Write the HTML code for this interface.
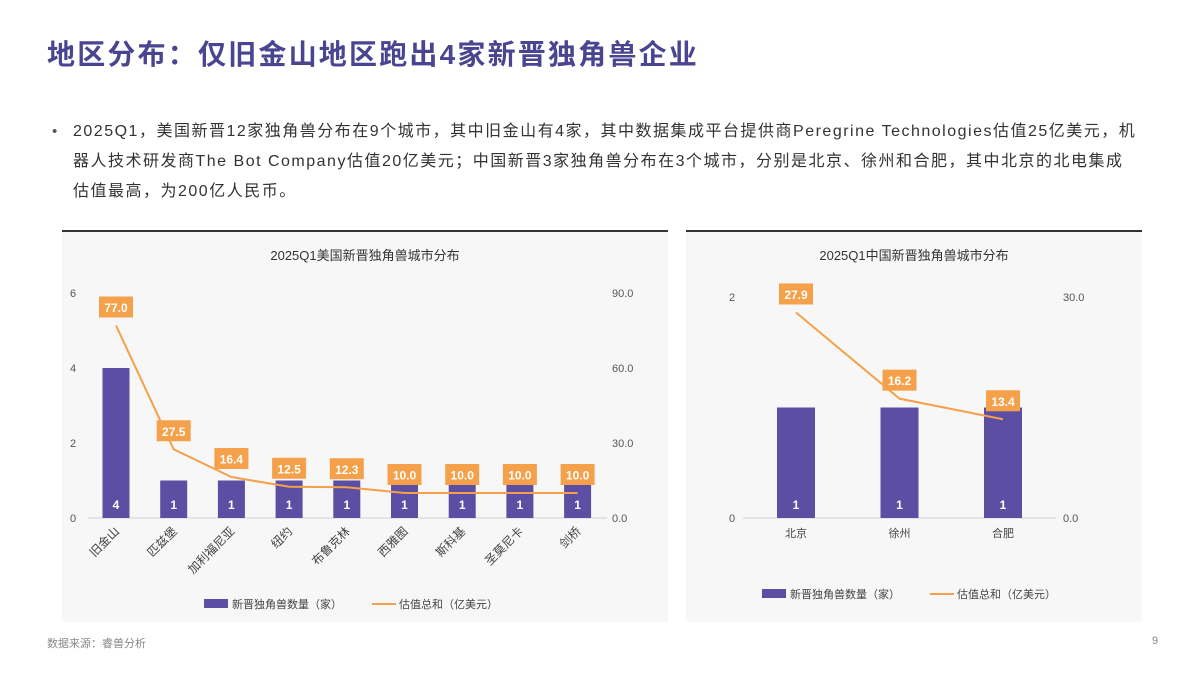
<!DOCTYPE html>
<html><head><meta charset="utf-8">
<style>
body{margin:0;width:1200px;height:675px;background:#fff;position:relative;overflow:hidden;font-family:"Liberation Sans","Noto Sans CJK SC",sans-serif;}
.title{position:absolute;left:47px;top:33px;font-size:28px;font-weight:bold;color:#4a4590;letter-spacing:2.2px;white-space:nowrap;}
.body{position:absolute;left:73px;top:117px;font-size:16px;line-height:30px;color:#333;letter-spacing:1.5px;white-space:nowrap;}
.bullet{position:absolute;left:52px;top:117px;font-size:15px;line-height:30px;color:#555;}
.foot{position:absolute;left:47px;top:635px;font-size:11px;color:#888;}
.pg{position:absolute;left:1152px;top:635px;font-size:11px;color:#888;}
svg{position:absolute;top:0;left:0;}
</style></head><body>
<div class="title">地区分布：仅旧金山地区跑出4家新晋独角兽企业</div>
<div class="bullet">•</div>
<div class="body">2025Q1，美国新晋12家独角兽分布在9个城市，其中旧金山有4家，其中数据集成平台提供商Peregrine Technologies估值25亿美元，机<br>器人技术研发商The Bot Company估值20亿美元；中国新晋3家独角兽分布在3个城市，分别是北京、徐州和合肥，其中北京的北电集成<br>估值最高，为200亿人民币。</div>
<div class="foot">数据来源：睿兽分析</div>
<div class="pg">9</div>
<svg id="chart" width="1200" height="675"></svg>
<script>
const usCats=["旧金山","匹兹堡","加利福尼亚","纽约","布鲁克林","西雅图","斯科基","圣莫尼卡","剑桥"];
const usCounts=[4,1,1,1,1,1,1,1,1];
const usVals=[77.0,27.5,16.4,12.5,12.3,10.0,10.0,10.0,10.0];
const usLeftTicks=[0,2,4,6];
const usRightTicks=[0,30,60,90];
const cnCats=["北京","徐州","合肥"];
const cnCounts=[1,1,1];
const cnVals=[27.9,16.2,13.4];
const cnLeftTicks=[0,2];
const cnRightTicks=[0,30];

const NS="http://www.w3.org/2000/svg";
const svg=document.getElementById('chart');
function mk(tag,attrs,parent){const e=document.createElementNS(NS,tag);for(const k in attrs)e.setAttribute(k,attrs[k]);(parent||svg).appendChild(e);return e;}
const FONT='"Liberation Sans","Noto Sans CJK SC",sans-serif';

function drawChart(o){
  const g=mk('g',{});
  
  
  const bg=mk('rect',{x:o.px,y:o.py,width:o.pw,height:o.ph,fill:'#f7f7f7'},g);
  
  
  const tb=mk('rect',{x:o.px,y:o.py,width:o.pw,height:2,fill:'#333'},g);
  
  
  const t=mk('text',{x:o.px+o.pw/2,y:o.py+30,'text-anchor':'middle','font-size':13,fill:'#333','font-family':FONT},g);
  t.textContent=o.title;
  
  
  const yL=v=>o.y0-(v/o.lmax)*(o.y0-o.ytop);
  const yR=v=>o.y0-(v/o.rmax)*(o.y0-o.ytop);
  const xC=i=>o.x0+o.step*i;
  o.lt.forEach(v=>{const e=mk('text',{x:o.ltx,y:yL(v)+4,'text-anchor':'middle','font-size':11,fill:'#555','font-family':FONT},g);e.textContent=v;
    });
  o.rt.forEach(v=>{const e=mk('text',{x:o.rtx,y:yR(v)+4,'text-anchor':'start','font-size':11,fill:'#555','font-family':FONT},g);e.textContent=v.toFixed(1);
    });
  const ax=mk('line',{x1:o.ax1,x2:o.ax2,y1:o.y0,y2:o.y0,stroke:'#d0d0d0','stroke-width':1},g);
  
  o.counts.forEach((c,i)=>{
    const b=mk('rect',{x:xC(i)-o.bw/2,y:yL(c),width:o.bw,height:o.y0-yL(c),fill:'#5b4ea3'},g);
    
    const l=mk('text',{x:xC(i),y:o.y0-9,'text-anchor':'middle','font-size':12,'font-weight':'bold',fill:'#fff','font-family':FONT},g);
    l.textContent=c;
  });
  const pts=o.vals.map((v,i)=>xC(i)+','+yR(v)).join(' ');
  const pl=mk('polyline',{points:pts,fill:'none',stroke:'#f5a04a','stroke-width':2},g);
  
  o.vals.forEach((v,i)=>{
    const y=yR(v)-o.lblOff;
    const r=mk('rect',{x:xC(i)-17,y:y-11,width:34,height:21,fill:'#f5a04a'},g);
    
    const tx=mk('text',{x:xC(i),y:y+4.5,'text-anchor':'middle','font-size':12,'font-weight':'bold',fill:'#fff','font-family':FONT},g);
    tx.textContent=v.toFixed(1);
  });
  o.cats.forEach((c,i)=>{
    let e;
    if(o.rot){e=mk('text',{x:xC(i)+4,y:o.y0+14,'text-anchor':'end','font-size':12,fill:'#444','font-family':FONT,transform:`rotate(-45 ${xC(i)+4} ${o.y0+14})`},g);}
    else{e=mk('text',{x:xC(i),y:o.y0+19,'text-anchor':'middle','font-size':11,fill:'#444','font-family':FONT},g);}
    e.textContent=c;
  });
  const lx=o.legX, ly=o.legY;
  const sw=mk('rect',{x:lx,y:ly-5,width:24,height:9,fill:'#5b4ea3'},g);
  
  const t1=mk('text',{x:lx+28,y:ly+4,'font-size':11,fill:'#444','font-family':FONT},g);t1.textContent='新晋独角兽数量（家）';
  
  const ll=mk('line',{x1:lx+168,x2:lx+192,y1:ly,y2:ly,stroke:'#f5a04a','stroke-width':2},g);
  
  const t2=mk('text',{x:lx+195,y:ly+4,'font-size':11,fill:'#444','font-family':FONT},g);t2.textContent='估值总和（亿美元）';
  
}
drawChart({name:'us-city-chart',title:'2025Q1美国新晋独角兽城市分布',cats:usCats,counts:usCounts,vals:usVals,lt:usLeftTicks,rt:usRightTicks,
  px:62,py:230,pw:606,ph:392,y0:518,ytop:293,lmax:6,rmax:90,x0:116,step:57.7,bw:27,ltx:73,rtx:612,ax1:88,ax2:607,lblOff:18,rot:true,legX:204,legY:604});
drawChart({name:'cn-city-chart',title:'2025Q1中国新晋独角兽城市分布',cats:cnCats,counts:cnCounts,vals:cnVals,lt:cnLeftTicks,rt:cnRightTicks,
  px:686,py:230,pw:456,ph:392,y0:518,ytop:297,lmax:2,rmax:30,x0:796,step:103.5,bw:38,ltx:732,rtx:1063,ax1:743,ax2:1056,lblOff:18,rot:false,legX:762,legY:594});
</script>
</body></html>
